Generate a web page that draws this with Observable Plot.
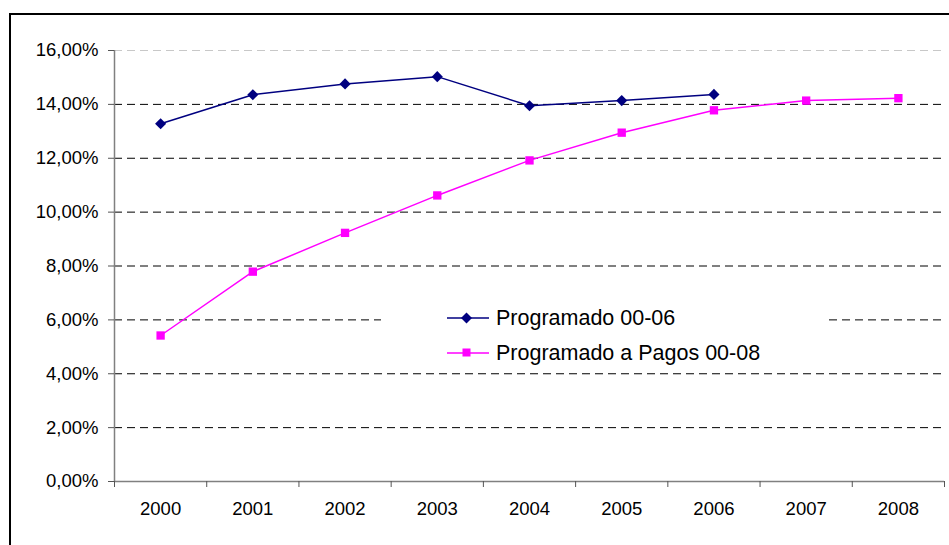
<!DOCTYPE html>
<html>
<head>
<meta charset="utf-8">
<script src="https://cdn.jsdelivr.net/npm/d3@7"></script>
<script src="https://cdn.jsdelivr.net/npm/@observablehq/plot@0.6"></script>
<style>
  html, body { margin: 0; padding: 0; background: #fff; }
  #wrap { position: relative; width: 949px; height: 545px; overflow: hidden; background: #fff; }
  #frame { position: absolute; left: 9px; top: 13px; width: 1000px; height: 1000px;
           border-left: 2px solid #000; border-top: 2px solid #000; pointer-events: none; }
  #legend { position: absolute; left: 381px; top: 300px; width: 448px; height: 68px; background: #fff;
            font-family: "Liberation Sans", Arial, sans-serif; font-size: 21.5px; color: #000; }
  .row { position: absolute; left: 66px; height: 30px; display: flex; align-items: center; white-space: nowrap; }
  .row svg { margin-right: 6px; }
</style>
</head>
<body>
<div id="wrap">
  <div id="chart"></div>
  <div id="legend"></div>
  <div id="frame"></div>
</div>
<script>
const years = [2000, 2001, 2002, 2003, 2004, 2005, 2006, 2007, 2008];
const programadoYears = [2000, 2001, 2002, 2003, 2004, 2005, 2006];
const programado = [0.1328, 0.1436, 0.1476, 0.1503, 0.1395, 0.1414, 0.1437];
const pagos = [0.0542, 0.0779, 0.0923, 0.1062, 0.1192, 0.1295, 0.1378, 0.1414, 0.1423];
const yTicks = [0, 0.02, 0.04, 0.06, 0.08, 0.10, 0.12, 0.14, 0.16];
const seriesNames = ["Programado 00-06", "Programado a Pagos 00-08"];
const seriesColors = ["#000080", "#ff00ff"];

const d1 = programadoYears.map((y, i) => ({year: y, v: programado[i]}));
const d2 = years.map((y, i) => ({year: y, v: pagos[i]}));
const boundaries = [years[0] - 0.5, ...years.map(y => y + 0.5)];
const fmt = d => (d * 100).toFixed(2).replace(".", ",") + "%";

const chart = Plot.plot({
  width: 949, height: 545,
  marginLeft: 114, marginRight: 5, marginTop: 50, marginBottom: 64,
  style: {fontFamily: "'Liberation Sans', Arial, sans-serif", fontSize: "18.5px", color: "#000", background: "#fff", overflow: "visible"},
  x: {type: "linear", domain: [years[0] - 0.5, years[years.length - 1] + 0.5], label: null},
  y: {domain: [yTicks[0], yTicks[yTicks.length - 1]], label: null},
  marks: [
    Plot.ruleY(yTicks.slice(1, -1), {stroke: "#000", strokeWidth: 1, strokeDasharray: "8,5"}),
    Plot.ruleY(yTicks.slice(-1), {stroke: "#c8c8c8", strokeWidth: 1, strokeDasharray: "8,5"}),
    Plot.ruleY([yTicks[0]], {stroke: "#808080", strokeWidth: 1.5}),
    Plot.ruleX([boundaries[0]], {stroke: "#808080", strokeWidth: 1.5}),
    Plot.axisY({ticks: yTicks, tickFormat: fmt, tickSize: 6, tickPadding: 10, stroke: "#555", label: null}),
    Plot.axisX({ticks: years, tickFormat: d => String(d), tickSize: 0, tickPadding: 20, label: null}),
    Plot.axisX({ticks: boundaries, tickFormat: () => "", tickSize: 6, stroke: "#555", label: null}),
    Plot.line(d2, {x: "year", y: "v", stroke: seriesColors[1], strokeWidth: 1.5}),
    Plot.dot(d2, {x: "year", y: "v", symbol: "square", r: 4.7, fill: seriesColors[1], stroke: "none"}),
    Plot.line(d1, {x: "year", y: "v", stroke: seriesColors[0], strokeWidth: 1.5}),
    Plot.dot(d1, {x: "year", y: "v", symbol: "diamond2", r: 5, fill: seriesColors[0], stroke: "none"})
  ]
});
document.getElementById("chart").appendChild(chart);

// Legend
const legend = document.getElementById("legend");
const rowTops = [3, 38];
seriesNames.forEach((name, i) => {
  const row = document.createElement("div");
  row.className = "row";
  row.style.top = rowTops[i] + "px";
  const marker = i === 0
    ? `<path d="M19.5,13.5 L25,19 L19.5,24.5 L14,19 Z" transform="translate(0,-4)" fill="${seriesColors[i]}"/>`
    : `<rect x="15.5" y="10.5" width="8" height="8" fill="${seriesColors[i]}"/>`;
  row.innerHTML = `<svg width="43" height="30" style="overflow:visible"><line x1="0" y1="15" x2="42" y2="15" stroke="${seriesColors[i]}" stroke-width="1.5"/>${marker}</svg><span>${name}</span>`;
  legend.appendChild(row);
});
</script>
</body>
</html>
